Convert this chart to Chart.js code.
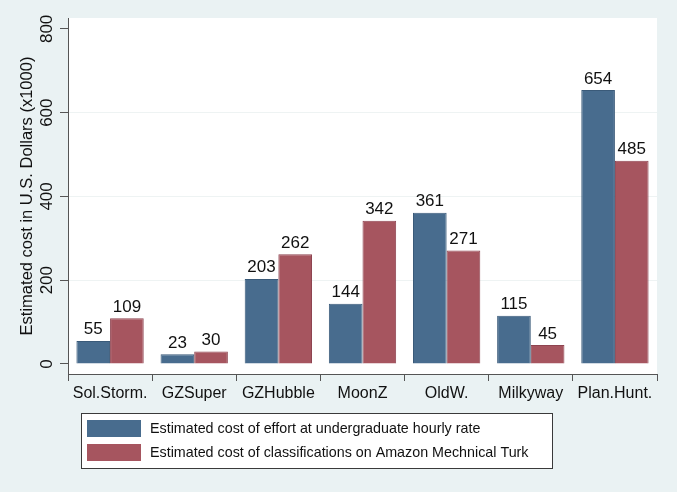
<!DOCTYPE html>
<html><head><meta charset="utf-8">
<script src="https://cdn.jsdelivr.net/npm/chart.js@4"></script>
<style>html,body{margin:0;padding:0;background:#EAF2F3;overflow:hidden}#wrap{width:677px;height:492px;position:relative}</style>
</head><body><div id="wrap"><canvas id="c" width="677" height="492"></canvas></div>
<script>
const categories = ['Sol.Storm.','GZSuper','GZHubble','MoonZ','OldW.','Milkyway','Plan.Hunt.'];
const undergradCost = [55,23,203,144,361,115,654];
const mturkCost = [109,30,262,342,271,45,485];
const yTicks = [0,200,400,600,800];
const seriesLabels = ['Estimated cost of effort at undergraduate hourly rate','Estimated cost of classifications on Amazon Mechnical Turk'];
const yTitle = 'Estimated cost in U.S. Dollars (x1000)';

const FONT = '"Liberation Sans", Arial, sans-serif';
const BG = '#EAF2F3';

const bgPlugin = {
  id: 'bg',
  beforeDraw(chart) {
    const {ctx, chartArea: a} = chart;
    ctx.save();
    ctx.fillStyle = BG;
    ctx.fillRect(0, 0, chart.width, chart.height);
    ctx.fillStyle = '#ffffff';
    ctx.fillRect(a.left, a.top, a.right - a.left, a.bottom - a.top);
    ctx.restore();
  }
};

const valuePlugin = {
  id: 'values',
  afterDatasetsDraw(chart) {
    const ctx = chart.ctx;
    ctx.save();
    ctx.font = '17px ' + FONT;
    ctx.fillStyle = '#111';
    ctx.textAlign = 'center';
    ctx.textBaseline = 'alphabetic';
    chart.data.datasets.forEach((ds, i) => {
      chart.getDatasetMeta(i).data.forEach((bar, j) => {
        ctx.fillText(String(ds.data[j]), bar.x, bar.y - 6.5);
      });
    });
    ctx.restore();
  }
};

const legendPlugin = {
  id: 'boxLegend',
  afterDraw(chart) {
    const ctx = chart.ctx;
    ctx.save();
    const bx = 81.5, by = 413.5, bw = 471, bh = 55;
    ctx.fillStyle = '#ffffff';
    ctx.fillRect(bx, by, bw, bh);
    ctx.strokeStyle = '#3a3a3a';
    ctx.lineWidth = 1;
    ctx.strokeRect(bx, by, bw, bh);
    ctx.font = '14.3px ' + FONT;
    ctx.textBaseline = 'middle';
    ctx.textAlign = 'left';
    chart.data.datasets.forEach((ds, i) => {
      const y = 420 + i * 24;
      ctx.fillStyle = ds.backgroundColor;
      ctx.fillRect(87, y, 54, 17);
      ctx.fillStyle = '#111';
      ctx.fillText(ds.label, 150, y + 9);
    });
    ctx.restore();
  }
};

new Chart(document.getElementById('c'), {
  type: 'bar',
  data: {
    labels: categories,
    datasets: [
      { label: seriesLabels[0], data: undergradCost, backgroundColor: '#486C8E', borderColor: '#3A5A79', borderWidth: 1 },
      { label: seriesLabels[1], data: mturkCost, backgroundColor: '#A6555F', borderColor: '#8E4450', borderWidth: 1 }
    ]
  },
  options: {
    responsive: false,
    devicePixelRatio: 1,
    animation: false,
    layout: { padding: { top: 18, right: 20, left: 0, bottom: 0 } },
    datasets: { bar: { categoryPercentage: 0.8, barPercentage: 1.0 } },
    plugins: { legend: { display: false }, tooltip: { enabled: false } },
    scales: {
      x: {
        type: 'category',
        grid: { drawOnChartArea: false, drawTicks: true, tickLength: 7, tickColor: '#555', tickWidth: 1 },
        border: { display: true, color: '#555', width: 1 },
        ticks: { font: { size: 16, family: FONT }, color: '#111', padding: 3, maxRotation: 0, autoSkip: false },
        afterFit(s) { s.height = 118; }
      },
      y: {
        type: 'linear',
        min: -24, max: 826,
        afterBuildTicks(s) { s.ticks = yTicks.map(v => ({ value: v })); },
        grid: {
          color: c => (c.tick && (c.tick.value === 0 || c.tick.value === 800)) ? 'rgba(0,0,0,0)' : '#EEF3F3',
          tickColor: '#555', tickLength: 8, lineWidth: 1
        },
        border: { display: true, color: '#555', width: 1 },
        ticks: { font: { size: 17, family: FONT }, color: '#111', padding: -1.5, minRotation: 90, maxRotation: 90, crossAlign: 'center' },
        title: { display: true, text: yTitle, font: { size: 16.5, family: FONT }, color: '#111', padding: { top: 17.5, bottom: 0 } },
        afterFit(s) { s.width = 68; }
      }
    }
  },
  plugins: [bgPlugin, valuePlugin, legendPlugin]
});
</script>
</body></html>
